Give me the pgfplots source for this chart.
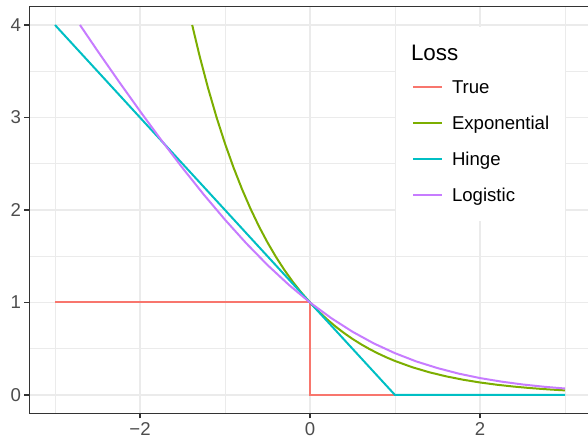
\documentclass[border=0pt]{standalone}
\usepackage{pgfplots}
\pgfplotsset{compat=1.18}
\usepackage{fontspec}
\setmainfont{Liberation Sans}
\definecolor{cTrue}{HTML}{F8766D}
\definecolor{cExp}{HTML}{7CAE00}
\definecolor{cHinge}{HTML}{00BFC4}
\definecolor{cLog}{HTML}{C77CFF}
\definecolor{gridc}{HTML}{EBEBEB}
\definecolor{gtwenty}{HTML}{333333}
\definecolor{gthirty}{HTML}{4D4D4D}
\begin{document}
\begin{tikzpicture}
\begin{axis}[
  scale only axis, width=561bp, height=407bp,
  xmin=-3.3, xmax=3.3, ymin=-0.2, ymax=4.2,
  xtick={-2,0,2}, xticklabels={−2,0,2},
  ytick={0,1,2,3,4}, yticklabels={0,1,2,3,4},
  minor xtick={-3,-1,1,3}, minor ytick={0.5,1.5,2.5,3.5},
  grid=both,
  major grid style={color=gridc, line width=1.6bp},
  minor grid style={color=gridc, line width=0.8bp},
  axis line style={color=gtwenty, line width=1.6bp},
  tick align=outside, tick pos=left,
  major tick length=5bp, minor tick length=0pt,
  major tick style={color=gtwenty, line width=1.6bp},
  ticklabel style={font=\fontsize{18.6bp}{22bp}\selectfont, text=gthirty},
  /pgf/number format/assume math mode=true,
  legend cell align=left,
  legend style={at={(0.653,0.950)}, anchor=north west, fill=white, draw=none,
    inner xsep=16bp, inner ysep=17bp, column sep=9bp, row sep=17.3bp,
    font=\fontsize{18.6bp}{22bp}\selectfont,
    nodes={inner sep=0pt, text height=16bp, text depth=2.7bp}},
  legend image code/.code={\draw[#1, line width=2bp] (0bp,0bp) -- (29bp,0bp);},
  every axis plot/.append style={line width=2bp},
]
\addlegendimage{empty legend}
\addlegendentry[text depth=0.3bp, font=\fontsize{22.4bp}{26bp}\selectfont]{\hspace*{-41bp}Loss}

\addplot[cTrue, no marks] coordinates {(-3,1) (0,1) (0,0) (3,0)};
\addlegendentry{True}

\addplot[cExp, no marks] coordinates {
(-1.386,4.000) (-1.3,3.669) (-1.2,3.320) (-1.1,3.004) (-1.0,2.718)
(-0.9,2.460) (-0.8,2.226) (-0.7,2.014) (-0.6,1.822) (-0.5,1.649)
(-0.4,1.492) (-0.3,1.350) (-0.2,1.221) (-0.1,1.105) (0,1.000)
(0.1,0.9048) (0.2,0.8187) (0.3,0.7408) (0.4,0.6703) (0.5,0.6065)
(0.6,0.5488) (0.7,0.4966) (0.8,0.4493) (0.9,0.4066) (1.0,0.3679)
(1.2,0.3012) (1.4,0.2466) (1.6,0.2019) (1.8,0.1653) (2.0,0.1353)
(2.2,0.1108) (2.4,0.0907) (2.6,0.0743) (2.8,0.0608) (3.0,0.0498)};
\addlegendentry{Exponential}

\addplot[cHinge, no marks] coordinates {(-3,4) (1,0) (3,0)};
\addlegendentry{Hinge}

\addplot[cLog, no marks] coordinates {
(-2.706,4.000) (-2.5,3.721) (-2.25,3.391) (-2.0,3.069) (-1.75,2.756)
(-1.5,2.455) (-1.25,2.167) (-1.0,1.895) (-0.75,1.640) (-0.5,1.405)
(-0.25,1.192) (0,1.000) (0.25,0.831) (0.5,0.684) (0.75,0.558)
(1.0,0.452) (1.25,0.363) (1.5,0.291) (1.75,0.231) (2.0,0.183)
(2.25,0.145) (2.5,0.114) (2.75,0.0894) (3.0,0.0701)};
\addlegendentry{Logistic}
\end{axis}
\pgfresetboundingbox
\path ([xshift=-29.5bp,yshift=-23.5bp]current axis.south west) rectangle ([xshift=-2.5bp,yshift=6.5bp]current axis.north east);
\end{tikzpicture}
\end{document}
